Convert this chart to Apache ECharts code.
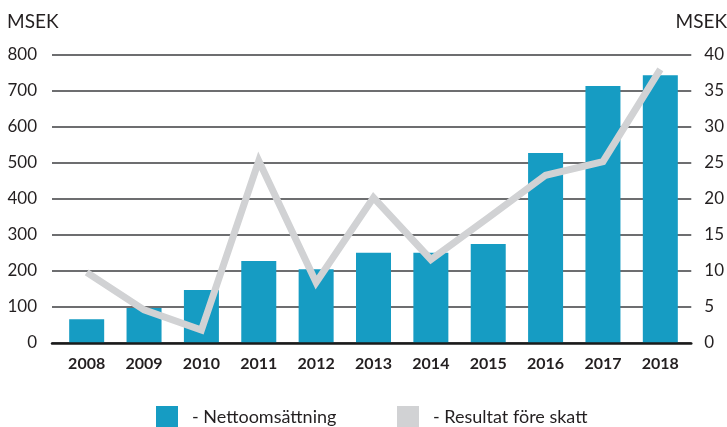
<!DOCTYPE html>
<html><head><meta charset="utf-8">
<script src="https://cdn.jsdelivr.net/npm/echarts@6/dist/echarts.min.js"></script>
<style>html,body{margin:0;padding:0;background:#fff}#c{width:727px;height:427px}</style>
</head><body><div id="c"></div>
<script>
const years = ['2008','2009','2010','2011','2012','2013','2014','2015','2016','2017','2018'];
const nettoomsattning = [66, 97, 147, 228, 205, 251, 251, 275, 528, 714, 744];
const resultat = [9.8, 4.6, 1.8, 25.3, 8.4, 20.2, 11.6, 17.4, 23.3, 25.2, 38.0];
const leftTicks = {min: 0, max: 800, interval: 100};
const rightTicks = {min: 0, max: 40, interval: 5};
const nameBar = '- Nettoomsättning';
const nameLine = '- Resultat före skatt';
const unit = 'MSEK';

const FONT = 'Lato';
const chart = echarts.init(document.getElementById('c'), null, {renderer: 'canvas'});
chart.setOption({
  animation: false,
  textStyle: {fontFamily: FONT},
  grid: [
    {left: 52, right: 35, top: 55, bottom: 84},
    {left: 58, right: 38, top: 55, bottom: 84}
  ],
  xAxis: [
    {gridIndex: 0, type: 'category', data: [''], axisLine: {show: true, lineStyle: {color: '#1a1a1a', width: 2.5}}, axisTick: {show: false}, axisLabel: {show: false}, z: 5},
    {gridIndex: 1, type: 'category', data: years, axisLine: {show: false}, axisTick: {show: false},
      axisLabel: {margin: 13, fontFamily: FONT, fontSize: 16, fontWeight: 'bold', color: '#231f20'}}
  ],
  yAxis: [
    {gridIndex: 0, type: 'value', position: 'left', ...leftTicks,
      axisLine: {show: false}, axisTick: {show: false},
      axisLabel: {margin: 15, fontFamily: FONT, fontSize: 17, color: '#231f20'},
      splitLine: {show: true, lineStyle: {color: '#6d6e70', width: 2}}},
    {gridIndex: 0, type: 'value', position: 'right', ...rightTicks,
      axisLine: {show: false}, axisTick: {show: false},
      axisLabel: {margin: 13, fontFamily: FONT, fontSize: 17, color: '#231f20'},
      splitLine: {show: false}},
    {gridIndex: 1, type: 'value', ...leftTicks, show: false, splitLine: {show: false}},
    {gridIndex: 1, type: 'value', ...rightTicks, show: false, splitLine: {show: false}}
  ],
  legend: [
    {left: 151, top: 401, itemWidth: 22, itemHeight: 22, icon: 'rect', data: [nameBar],
      textStyle: {fontFamily: FONT, fontSize: 18, color: '#231f20', padding: [0, 0, 0, 9]}},
    {left: 392, top: 401, itemWidth: 22, itemHeight: 22, icon: 'rect', data: [nameLine],
      textStyle: {fontFamily: FONT, fontSize: 18, color: '#231f20', padding: [0, 0, 0, 9]}}
  ],
  graphic: [
    {type: 'text', left: 7, top: 12, style: {text: unit, font: '19px ' + FONT, fill: '#231f20'}},
    {type: 'text', right: 0, top: 12, style: {text: unit, font: '19px ' + FONT, fill: '#231f20'}}
  ],
  series: [
    {name: nameBar, type: 'bar', xAxisIndex: 1, yAxisIndex: 2, data: nettoomsattning, barWidth: 35,
      itemStyle: {color: '#169cc3'}, z: 3},
    {name: nameLine, type: 'line', xAxisIndex: 1, yAxisIndex: 3, data: resultat, symbol: 'none',
      lineStyle: {color: '#d1d2d4', width: 7, join: 'miter'}, itemStyle: {color: '#d1d2d4'}, z: 4}
  ]
});
</script></body></html>
